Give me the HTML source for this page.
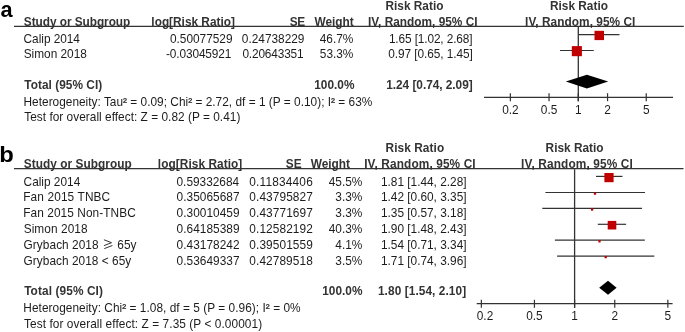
<!DOCTYPE html>
<html><head><meta charset="utf-8"><style>
html,body{margin:0;padding:0;background:#fff;width:685px;height:332px;overflow:hidden}
svg{display:block}
text{font-family:"Liberation Sans",sans-serif}
.sp{stroke:#1c1c1c;stroke-width:0.25px}
</style></head><body>
<svg width="685" height="332" viewBox="0 0 685 332"><line x1="14.00" y1="26.30" x2="683.80" y2="26.30" stroke="#333" stroke-width="1.2"/>
<line x1="578.30" y1="26.90" x2="578.30" y2="101.20" stroke="#333" stroke-width="1.3"/>
<line x1="484.00" y1="97.30" x2="673.00" y2="97.30" stroke="#333" stroke-width="1.2"/>
<line x1="510.36" y1="93.20" x2="510.36" y2="101.20" stroke="#333" stroke-width="1.2"/>
<line x1="549.04" y1="93.20" x2="549.04" y2="101.20" stroke="#333" stroke-width="1.2"/>
<line x1="578.30" y1="93.20" x2="578.30" y2="101.20" stroke="#333" stroke-width="1.2"/>
<line x1="607.56" y1="93.20" x2="607.56" y2="101.20" stroke="#333" stroke-width="1.2"/>
<line x1="646.24" y1="93.20" x2="646.24" y2="101.20" stroke="#333" stroke-width="1.2"/>
<line x1="578.30" y1="34.60" x2="619.50" y2="34.60" stroke="#333" stroke-width="1.2"/>
<rect x="594.50" y="30.80" width="9.50" height="9.30" fill="#c00000"/>
<line x1="560.00" y1="50.50" x2="593.80" y2="50.50" stroke="#333" stroke-width="1.2"/>
<rect x="571.80" y="46.10" width="10.10" height="10.10" fill="#c00000"/>
<polygon points="565.80,81.60 586.90,74.80 608.20,81.60 586.90,88.40" fill="#000"/>
<line x1="14.00" y1="168.60" x2="683.50" y2="168.60" stroke="#333" stroke-width="1.2"/>
<polyline points="104.30,239.90 111.50,242.70 104.30,245.50" fill="none" stroke="#333" stroke-width="1.0" stroke-linejoin="round" stroke-linecap="round"/>
<line x1="104.30" y1="248.60" x2="112.40" y2="245.50" stroke="#333" stroke-width="1.0"/>
<line x1="574.60" y1="169.20" x2="574.60" y2="307.80" stroke="#333" stroke-width="1.3"/>
<line x1="476.70" y1="303.70" x2="672.60" y2="303.70" stroke="#333" stroke-width="1.2"/>
<line x1="481.36" y1="299.80" x2="481.36" y2="307.80" stroke="#333" stroke-width="1.2"/>
<line x1="534.44" y1="299.80" x2="534.44" y2="307.80" stroke="#333" stroke-width="1.2"/>
<line x1="574.60" y1="299.80" x2="574.60" y2="307.80" stroke="#333" stroke-width="1.2"/>
<line x1="614.76" y1="299.80" x2="614.76" y2="307.80" stroke="#333" stroke-width="1.2"/>
<line x1="667.84" y1="299.80" x2="667.84" y2="307.80" stroke="#333" stroke-width="1.2"/>
<line x1="596.00" y1="176.40" x2="622.50" y2="176.40" stroke="#333" stroke-width="1.2"/>
<rect x="604.40" y="173.00" width="9.20" height="9.20" fill="#c00000"/>
<line x1="545.40" y1="192.50" x2="645.00" y2="192.50" stroke="#333" stroke-width="1.2"/>
<rect x="593.85" y="192.45" width="2.30" height="2.30" fill="#c00000"/>
<line x1="542.30" y1="208.40" x2="642.00" y2="208.40" stroke="#333" stroke-width="1.2"/>
<rect x="590.95" y="208.35" width="2.30" height="2.30" fill="#c00000"/>
<line x1="597.80" y1="224.30" x2="626.10" y2="224.30" stroke="#333" stroke-width="1.2"/>
<rect x="607.70" y="220.90" width="8.60" height="8.60" fill="#c00000"/>
<line x1="554.90" y1="240.20" x2="644.80" y2="240.20" stroke="#333" stroke-width="1.2"/>
<rect x="598.35" y="240.15" width="2.30" height="2.30" fill="#c00000"/>
<line x1="557.10" y1="256.10" x2="654.30" y2="256.10" stroke="#333" stroke-width="1.2"/>
<rect x="604.55" y="255.95" width="2.30" height="2.30" fill="#c00000"/>
<polygon points="599.20,287.80 608.00,280.80 616.60,287.80 608.00,294.70" fill="#000"/>
<g style="filter:grayscale(1)">
<text x="0.56" y="16.75" text-anchor="start" font-size="21.7" font-weight="bold" fill="#000">a</text>
<text x="385.51" y="10.00" text-anchor="start" font-size="11.85" font-weight="bold" fill="#333">Risk Ratio</text>
<text x="550.01" y="10.00" text-anchor="start" font-size="11.85" font-weight="bold" fill="#333">Risk Ratio</text>
<text x="23.86" y="25.60" text-anchor="start" font-size="11.85" font-weight="bold" fill="#333" textLength="106.43" lengthAdjust="spacing">Study or Subgroup</text>
<text x="151.37" y="25.60" text-anchor="start" font-size="11.85" font-weight="bold" fill="#333">log[Risk Ratio]</text>
<text x="289.76" y="25.60" text-anchor="start" font-size="11.85" font-weight="bold" fill="#333" textLength="15.50" lengthAdjust="spacing">SE</text>
<text x="314.59" y="25.60" text-anchor="start" font-size="11.85" font-weight="bold" fill="#333" textLength="39.06" lengthAdjust="spacing">Weight</text>
<text x="368.01" y="25.60" text-anchor="start" font-size="11.85" font-weight="bold" fill="#333">IV, Random, 95% CI</text>
<text x="525.11" y="25.60" text-anchor="start" font-size="11.85" font-weight="bold" fill="#333" textLength="110.29" lengthAdjust="spacing">IV, Random, 95% CI</text>
<text x="23.60" y="42.60" text-anchor="start" font-size="11.85" fill="#1c1c1c" textLength="56.35" lengthAdjust="spacing">Calip 2014</text>
<text x="169.94" y="42.60" text-anchor="start" font-size="11.85" fill="#1c1c1c">0.50077529</text>
<text x="241.84" y="42.60" text-anchor="start" font-size="11.85" fill="#1c1c1c">0.24738229</text>
<text x="319.73" y="42.60" text-anchor="start" font-size="11.85" fill="#1c1c1c">46.7%</text>
<text x="388.90" y="42.60" text-anchor="start" font-size="11.85" fill="#1c1c1c" textLength="83.65" lengthAdjust="spacing">1.65 [1.02, 2.68]</text>
<text x="23.66" y="58.10" text-anchor="start" font-size="11.85" fill="#1c1c1c">Simon 2018</text>
<text x="165.97" y="58.10" text-anchor="start" font-size="11.85" fill="#1c1c1c" textLength="65.41" lengthAdjust="spacing">-0.03045921</text>
<text x="242.44" y="58.10" text-anchor="start" font-size="11.85" fill="#1c1c1c" textLength="61.14" lengthAdjust="spacing">0.20643351</text>
<text x="353.42" y="58.10" text-anchor="end" font-size="11.85" fill="#1c1c1c">53.3%</text>
<text x="388.34" y="58.10" text-anchor="start" font-size="11.85" fill="#1c1c1c" textLength="84.51" lengthAdjust="spacing">0.97 [0.65, 1.45]</text>
<text x="24.37" y="88.60" text-anchor="start" font-size="11.85" font-weight="bold" fill="#333" textLength="77.82" lengthAdjust="spacing">Total (95% CI)</text>
<text x="314.25" y="88.60" text-anchor="start" font-size="11.85" font-weight="bold" fill="#333">100.0%</text>
<text x="386.25" y="88.60" text-anchor="start" font-size="11.85" font-weight="bold" fill="#333" textLength="86.41" lengthAdjust="spacing">1.24 [0.74, 2.09]</text>
<text x="23.53" y="106.00" text-anchor="start" font-size="11.85" fill="#1c1c1c" textLength="348.79" lengthAdjust="spacing">Heterogeneity: Tau<tspan class="sp">²</tspan> = 0.09; Chi<tspan class="sp">²</tspan> = 2.72, df = 1 (P = 0.10); I<tspan class="sp">²</tspan> = 63%</text>
<text x="24.23" y="121.00" text-anchor="start" font-size="11.85" fill="#1c1c1c" textLength="216.10" lengthAdjust="spacing">Test for overall effect: Z = 0.82 (P = 0.41)</text>
<text x="510.36" y="113.70" text-anchor="middle" font-size="11.85" fill="#1c1c1c">0.2</text>
<text x="549.04" y="113.70" text-anchor="middle" font-size="11.85" fill="#1c1c1c">0.5</text>
<text x="578.30" y="113.70" text-anchor="middle" font-size="11.85" fill="#1c1c1c">1</text>
<text x="607.56" y="113.70" text-anchor="middle" font-size="11.85" fill="#1c1c1c">2</text>
<text x="646.24" y="113.70" text-anchor="middle" font-size="11.85" fill="#1c1c1c">5</text>
<text transform="translate(-0.75,162.3) scale(1.045,1)" font-size="22.8" font-weight="bold" fill="#000">b</text>
<text x="385.51" y="151.90" text-anchor="start" font-size="11.85" font-weight="bold" fill="#333" textLength="58.66" lengthAdjust="spacing">Risk Ratio</text>
<text x="545.61" y="151.90" text-anchor="start" font-size="11.85" font-weight="bold" fill="#333">Risk Ratio</text>
<text x="23.76" y="168.00" text-anchor="start" font-size="11.85" font-weight="bold" fill="#333" textLength="107.93" lengthAdjust="spacing">Study or Subgroup</text>
<text x="157.87" y="168.00" text-anchor="start" font-size="11.85" font-weight="bold" fill="#333" textLength="84.39" lengthAdjust="spacing">log[Risk Ratio]</text>
<text x="285.86" y="168.00" text-anchor="start" font-size="11.85" font-weight="bold" fill="#333">SE</text>
<text x="310.79" y="168.00" text-anchor="start" font-size="11.85" font-weight="bold" fill="#333" textLength="39.06" lengthAdjust="spacing">Weight</text>
<text x="364.21" y="168.00" text-anchor="start" font-size="11.85" font-weight="bold" fill="#333" textLength="111.39" lengthAdjust="spacing">IV, Random, 95% CI</text>
<text x="521.11" y="168.00" text-anchor="start" font-size="11.85" font-weight="bold" fill="#333" textLength="111.69" lengthAdjust="spacing">IV, Random, 95% CI</text>
<text x="23.60" y="185.50" text-anchor="start" font-size="11.85" fill="#1c1c1c">Calip 2014</text>
<text x="176.54" y="185.50" text-anchor="start" font-size="11.85" fill="#1c1c1c">0.59332684</text>
<text x="249.34" y="185.50" text-anchor="start" font-size="11.85" fill="#1c1c1c" textLength="63.38" lengthAdjust="spacing">0.11834406</text>
<text x="362.32" y="185.50" text-anchor="end" font-size="11.85" fill="#1c1c1c">45.5%</text>
<text x="466.54" y="185.50" text-anchor="end" font-size="11.85" fill="#1c1c1c">1.81 [1.44, 2.28]</text>
<text x="23.23" y="201.30" text-anchor="start" font-size="11.85" fill="#1c1c1c" textLength="86.92" lengthAdjust="spacing">Fan 2015 TNBC</text>
<text x="176.54" y="201.30" text-anchor="start" font-size="11.85" fill="#1c1c1c" textLength="63.06" lengthAdjust="spacing">0.35065687</text>
<text x="249.34" y="201.30" text-anchor="start" font-size="11.85" fill="#1c1c1c" textLength="63.46" lengthAdjust="spacing">0.43795827</text>
<text x="362.32" y="201.30" text-anchor="end" font-size="11.85" fill="#1c1c1c">3.3%</text>
<text x="466.54" y="201.30" text-anchor="end" font-size="11.85" fill="#1c1c1c">1.42 [0.60, 3.35]</text>
<text x="23.23" y="217.10" text-anchor="start" font-size="11.85" fill="#1c1c1c" textLength="112.52" lengthAdjust="spacing">Fan 2015 Non-TNBC</text>
<text x="176.54" y="217.10" text-anchor="start" font-size="11.85" fill="#1c1c1c" textLength="63.02" lengthAdjust="spacing">0.30010459</text>
<text x="249.34" y="217.10" text-anchor="start" font-size="11.85" fill="#1c1c1c" textLength="63.46" lengthAdjust="spacing">0.43771697</text>
<text x="362.32" y="217.10" text-anchor="end" font-size="11.85" fill="#1c1c1c">3.3%</text>
<text x="466.54" y="217.10" text-anchor="end" font-size="11.85" fill="#1c1c1c">1.35 [0.57, 3.18]</text>
<text x="23.66" y="232.90" text-anchor="start" font-size="11.85" fill="#1c1c1c" textLength="63.95" lengthAdjust="spacing">Simon 2018</text>
<text x="176.54" y="232.90" text-anchor="start" font-size="11.85" fill="#1c1c1c" textLength="63.02" lengthAdjust="spacing">0.64185389</text>
<text x="249.34" y="232.90" text-anchor="start" font-size="11.85" fill="#1c1c1c" textLength="63.46" lengthAdjust="spacing">0.12582192</text>
<text x="362.32" y="232.90" text-anchor="end" font-size="11.85" fill="#1c1c1c">40.3%</text>
<text x="466.54" y="232.90" text-anchor="end" font-size="11.85" fill="#1c1c1c">1.90 [1.48, 2.43]</text>
<text x="176.54" y="248.70" text-anchor="start" font-size="11.85" fill="#1c1c1c" textLength="63.06" lengthAdjust="spacing">0.43178242</text>
<text x="249.34" y="248.70" text-anchor="start" font-size="11.85" fill="#1c1c1c" textLength="63.42" lengthAdjust="spacing">0.39501559</text>
<text x="362.32" y="248.70" text-anchor="end" font-size="11.85" fill="#1c1c1c">4.1%</text>
<text x="466.54" y="248.70" text-anchor="end" font-size="11.85" fill="#1c1c1c">1.54 [0.71, 3.34]</text>
<text x="23.60" y="264.50" text-anchor="start" font-size="11.85" fill="#1c1c1c" textLength="107.62" lengthAdjust="spacing">Grybach 2018 &lt; 65y</text>
<text x="176.54" y="264.50" text-anchor="start" font-size="11.85" fill="#1c1c1c" textLength="63.06" lengthAdjust="spacing">0.53649337</text>
<text x="249.34" y="264.50" text-anchor="start" font-size="11.85" fill="#1c1c1c" textLength="63.38" lengthAdjust="spacing">0.42789518</text>
<text x="362.32" y="264.50" text-anchor="end" font-size="11.85" fill="#1c1c1c">3.5%</text>
<text x="466.54" y="264.50" text-anchor="end" font-size="11.85" fill="#1c1c1c">1.71 [0.74, 3.96]</text>
<text x="23.60" y="248.70" text-anchor="start" font-size="11.85" fill="#1c1c1c" textLength="75.01" lengthAdjust="spacing">Grybach 2018</text>
<text x="117.30" y="248.70" text-anchor="start" font-size="11.85" fill="#1c1c1c">65y</text>
<text x="24.17" y="295.00" text-anchor="start" font-size="11.85" font-weight="bold" fill="#333" textLength="78.72" lengthAdjust="spacing">Total (95% CI)</text>
<text x="322.25" y="295.00" text-anchor="start" font-size="11.85" font-weight="bold" fill="#333">100.0%</text>
<text x="377.95" y="295.00" text-anchor="start" font-size="11.85" font-weight="bold" fill="#333" textLength="88.21" lengthAdjust="spacing">1.80 [1.54, 2.10]</text>
<text x="23.33" y="312.00" text-anchor="start" font-size="11.85" fill="#1c1c1c" textLength="277.29" lengthAdjust="spacing">Heterogeneity: Chi<tspan class="sp">²</tspan> = 1.08, df = 5 (P = 0.96); I<tspan class="sp">²</tspan> = 0%</text>
<text x="24.03" y="327.50" text-anchor="start" font-size="11.85" fill="#1c1c1c" textLength="238.10" lengthAdjust="spacing">Test for overall effect: Z = 7.35 (P &lt; 0.00001)</text>
<text x="485.00" y="320.30" text-anchor="middle" font-size="11.85" fill="#1c1c1c">0.2</text>
<text x="534.44" y="320.30" text-anchor="middle" font-size="11.85" fill="#1c1c1c">0.5</text>
<text x="574.60" y="320.30" text-anchor="middle" font-size="11.85" fill="#1c1c1c">1</text>
<text x="614.76" y="320.30" text-anchor="middle" font-size="11.85" fill="#1c1c1c">2</text>
<text x="667.84" y="320.30" text-anchor="middle" font-size="11.85" fill="#1c1c1c">5</text>
</g></svg>
</body></html>
